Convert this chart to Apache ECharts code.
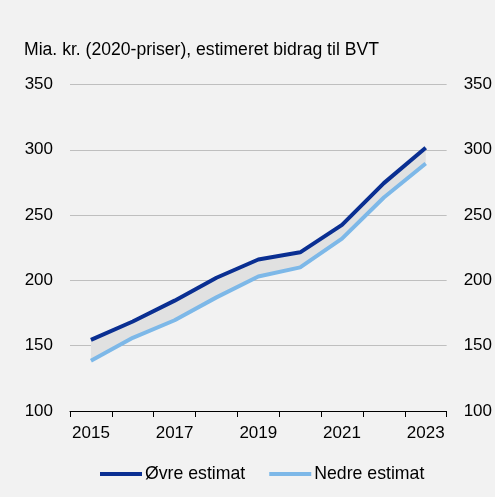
<!DOCTYPE html>
<html><head><meta charset="utf-8">
<script src="https://cdn.jsdelivr.net/npm/echarts@6/dist/echarts.min.js"></script>
<style>html,body{margin:0;padding:0;background:#f2f2f2}#c{width:495px;height:497px}</style>
</head><body><div id="c"></div>
<script>
const categories = ['2015','2016','2017','2018','2019','2020','2021','2022','2023'];
const upper = [154.5, 168.5, 184.5, 202, 216, 221.5, 242.5, 274.5, 301.5];
const lower = [138.5, 156, 169.5, 187, 203, 210, 232, 263.5, 289.5];
const yTicks = [100, 150, 200, 250, 300, 350];
const names = ['Øvre estimat', 'Nedre estimat'];
const title = 'Mia. kr. (2020-priser), estimeret bidrag til BVT';

const diff = upper.map((v, i) => v - lower[i]);
const font = 'Arial, "Liberation Sans", sans-serif';
const chart = echarts.init(document.getElementById('c'));
const yAxisBase = {
  type: 'value', min: yTicks[0], max: yTicks[yTicks.length-1], interval: 50,
  axisLine: {show: false}, axisTick: {show: false},
  axisLabel: {color: '#000', fontSize: 17, fontFamily: font, margin: 17},
  splitLine: {show: true, lineStyle: {color: '#bfbfbf', width: 1}}
};
chart.setOption({
  backgroundColor: '#f2f2f2',
  animation: false,
  title: {text: title, left: 19, top: 36, textStyle: {fontSize: 17.6, fontWeight: 'normal', color: '#000', fontFamily: font}},
  grid: {left: 70, right: 46, top: 84.5, bottom: 86, containLabel: false},
  legend: {
    bottom: 9, left: 95, itemWidth: 42, itemHeight: 4, itemGap: 24,
    data: [{name: names[0], icon: 'rect'}, {name: names[1], icon: 'rect'}],
    textStyle: {fontSize: 17.7, color: '#000', fontFamily: font, padding: [0,0,0,-2]}
  },
  xAxis: {
    type: 'category', data: categories, boundaryGap: true,
    axisLine: {lineStyle: {color: '#000', width: 1}},
    axisTick: {show: true, interval: 0, length: 6, lineStyle: {color: '#000'}},
    axisLabel: {interval: 1, color: '#000', fontSize: 17, fontFamily: font, margin: 14},
    splitLine: {show: false}
  },
  yAxis: [
    Object.assign({}, yAxisBase, {position: 'left'}),
    Object.assign({}, yAxisBase, {position: 'right', splitLine: {show: false}})
  ],
  series: [
    {name: 'base', type: 'line', stack: 'band', data: lower, symbol: 'none', lineStyle: {opacity: 0}, silent: true, z: 1},
    {name: 'band', type: 'line', stack: 'band', data: diff, symbol: 'none', lineStyle: {opacity: 0}, areaStyle: {color: '#e1e1e1', opacity: 1}, silent: true, z: 1},
    {name: names[1], type: 'line', data: lower, symbol: 'none', color: '#7db8e8', lineStyle: {color: '#7db8e8', width: 4}, z: 3},
    {name: names[0], type: 'line', data: upper, symbol: 'none', color: '#0a2f92', lineStyle: {color: '#0a2f92', width: 4}, z: 4}
  ]
});
</script></body></html>
